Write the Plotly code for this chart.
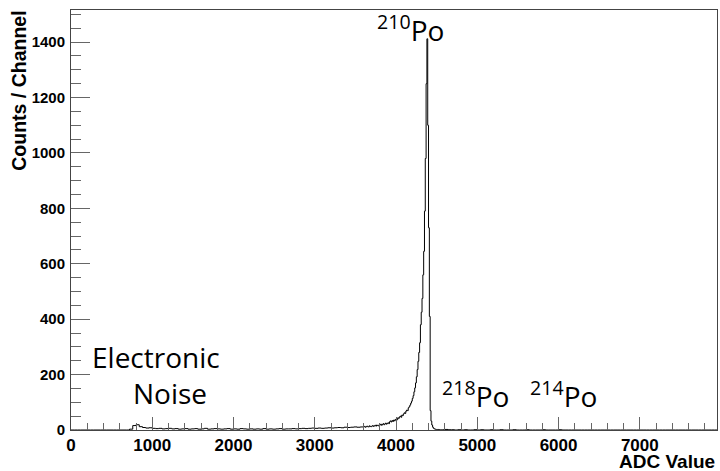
import plotly.graph_objects as go

# ---- data (ADC spectrum) ----
# Segment A: 0-3600 ADC, 40-channel-wide bins
seg_a_start, seg_a_width = 0, 40
counts_a = [
    0, 0, 0, 0, 0, 0, 0, 0, 0, 0, 0, 0, 0, 0, 0, 0, 0, 0,          # 0-720
    3, 16, 19, 12, 9, 7, 8, 6, 5, 6, 4, 5, 6, 4, 5, 3, 4, 5, 3,   # 720-1480
    4, 5, 3, 4, 6, 3, 4, 5, 4, 3, 4, 5, 3, 4, 3, 5, 4, 3, 4, 3,   # 1480-2280
    4, 3, 5, 3, 4, 3, 4, 5, 3, 4, 4, 5, 4, 5, 6, 5, 6, 7, 6, 7,   # 2280-3080
    6, 7, 8, 7, 8, 9, 8, 10, 9, 10, 11, 10, 11,                   # 3080-3600
]
# Segment B: 3600-4600 ADC, 10-channel-wide bins (210Po peak region)
seg_b_start, seg_b_width = 3600, 10
counts_b = [
    11, 13, 10, 12, 14, 12, 11, 15, 13, 12,
    14, 16, 13, 15, 17, 14, 18, 16, 15, 19,
    18, 21, 17, 20, 23, 19, 22, 25, 21, 24,
    26, 23, 30, 33, 29, 34, 31, 36, 33, 38,
    40, 37, 44, 42, 47, 50, 46, 54, 52, 58,
    62, 60, 68, 72, 70, 80, 84, 90, 97, 104,
    114, 124, 138, 152, 170, 192, 218, 248, 280, 315,
    380, 425, 475, 560, 645, 790, 980, 1250, 1412, 1100,
    730, 410, 70, 32, 18, 10, 6, 4, 3, 2,
    2, 1, 2, 1, 0, 1, 1, 0, 1, 0,
]
# Segment C: 4600-7960 ADC, 40-channel-wide bins
seg_c_start, seg_c_width = 4600, 40
counts_c = [
    2, 1, 1, 0, 1, 0, 1, 0, 0, 1, 0, 1, 0, 0, 1, 0, 0, 1, 0, 0, 0,
    1, 0, 0, 0, 1, 0, 0, 0, 0, 1, 0, 0, 0, 0, 1, 0, 0, 0, 0, 0, 0,
    0, 0, 0, 0, 0, 0, 0, 0, 0, 0, 0, 0, 0, 0, 0, 0, 0, 0, 0, 0, 0,
    0, 0, 0, 0, 0, 0, 0, 0, 0, 0, 0, 0, 0, 0, 0, 0, 0, 0, 0, 0, 0,
]

x_range = [0, 7950]
y_range = [0, 1516]

# ---- build step histogram ----
xs, ys = [], []
for start, width, counts in [(seg_a_start, seg_a_width, counts_a),
                             (seg_b_start, seg_b_width, counts_b),
                             (seg_c_start, seg_c_width, counts_c)]:
    for i, c in enumerate(counts):
        xs.append(start + i * width)
        ys.append(c)
xs.append(seg_c_start + len(counts_c) * seg_c_width)
ys.append(counts_c[-1])

fig = go.Figure()
fig.add_trace(go.Scatter(x=xs, y=ys, mode="lines", line_shape="hv",
                         line=dict(color="black", width=1), hoverinfo="skip"))

tick_font_x = dict(family="Liberation Sans, Arial, sans-serif", size=17, color="black", weight=700)
tick_font_y = dict(family="Liberation Sans, Arial, sans-serif", size=15, color="black", weight=700)

fig.update_xaxes(range=x_range, dtick=1000, tick0=0, ticks="inside", ticklen=13,
                 tickcolor="#666", tickwidth=1, showgrid=False, zeroline=False,
                 showline=True, linecolor="#444", linewidth=1, mirror=True,
                 tickfont=tick_font_x, automargin=False,
                 minor=dict(dtick=200, ticks="inside", ticklen=7, tickcolor="#666", showgrid=False))
fig.update_yaxes(range=y_range, dtick=200, tick0=0, ticks="inside", ticklen=19,
                 tickcolor="#666", tickwidth=1, showgrid=False, zeroline=False,
                 showline=True, linecolor="#444", linewidth=1, mirror=True,
                 tickfont=tick_font_y, ticklabelstandoff=2, automargin=False,
                 minor=dict(dtick=50, ticks="inside", ticklen=10, tickcolor="#666", showgrid=False))

lab_font = dict(family="Open Sans, Noto Sans, sans-serif", size=28, color="black")
annots = [
    dict(text="<sup>210</sup>Po", x=4175, y=0.955),
    dict(text="Electronic", x=1047, y=0.174),
    dict(text="Noise", x=1219, y=0.088),
    dict(text="<sup>218</sup>Po", x=4975, y=0.085),
    dict(text="<sup>214</sup>Po", x=6059, y=0.085),
]
for a in annots:
    fig.add_annotation(text=a["text"], x=a["x"], y=a["y"], xref="x", yref="paper",
                       xanchor="center", yanchor="middle", showarrow=False, font=lab_font)

title_font = dict(family="Liberation Sans, Arial, sans-serif", size=19, color="black")
fig.add_annotation(text="<b>ADC Value</b>", x=1.0, y=-0.074, xref="paper", yref="paper",
                   xanchor="right", yanchor="middle", showarrow=False, font=title_font)
fig.add_annotation(text="<b>Counts / Channel</b>", x=-0.081, y=0.807, xref="paper", yref="paper",
                   xanchor="center", yanchor="middle", textangle=-90, showarrow=False,
                   font=dict(family="Liberation Sans, Arial, sans-serif", size=19.5, color="black"))

fig.update_layout(width=720, height=471, paper_bgcolor="white", plot_bgcolor="white",
                  margin=dict(l=71, r=3, t=10, b=41), showlegend=False)

# remove the page's default body margin / scrollbars so the figure fills the window exactly
fig.write_html(
    "out.html",
    config={"displayModeBar": False},
    post_script=("document.documentElement.style.overflow='hidden';"
                 "document.body.style.margin='0';"
                 "document.body.style.overflow='hidden';"),
)
